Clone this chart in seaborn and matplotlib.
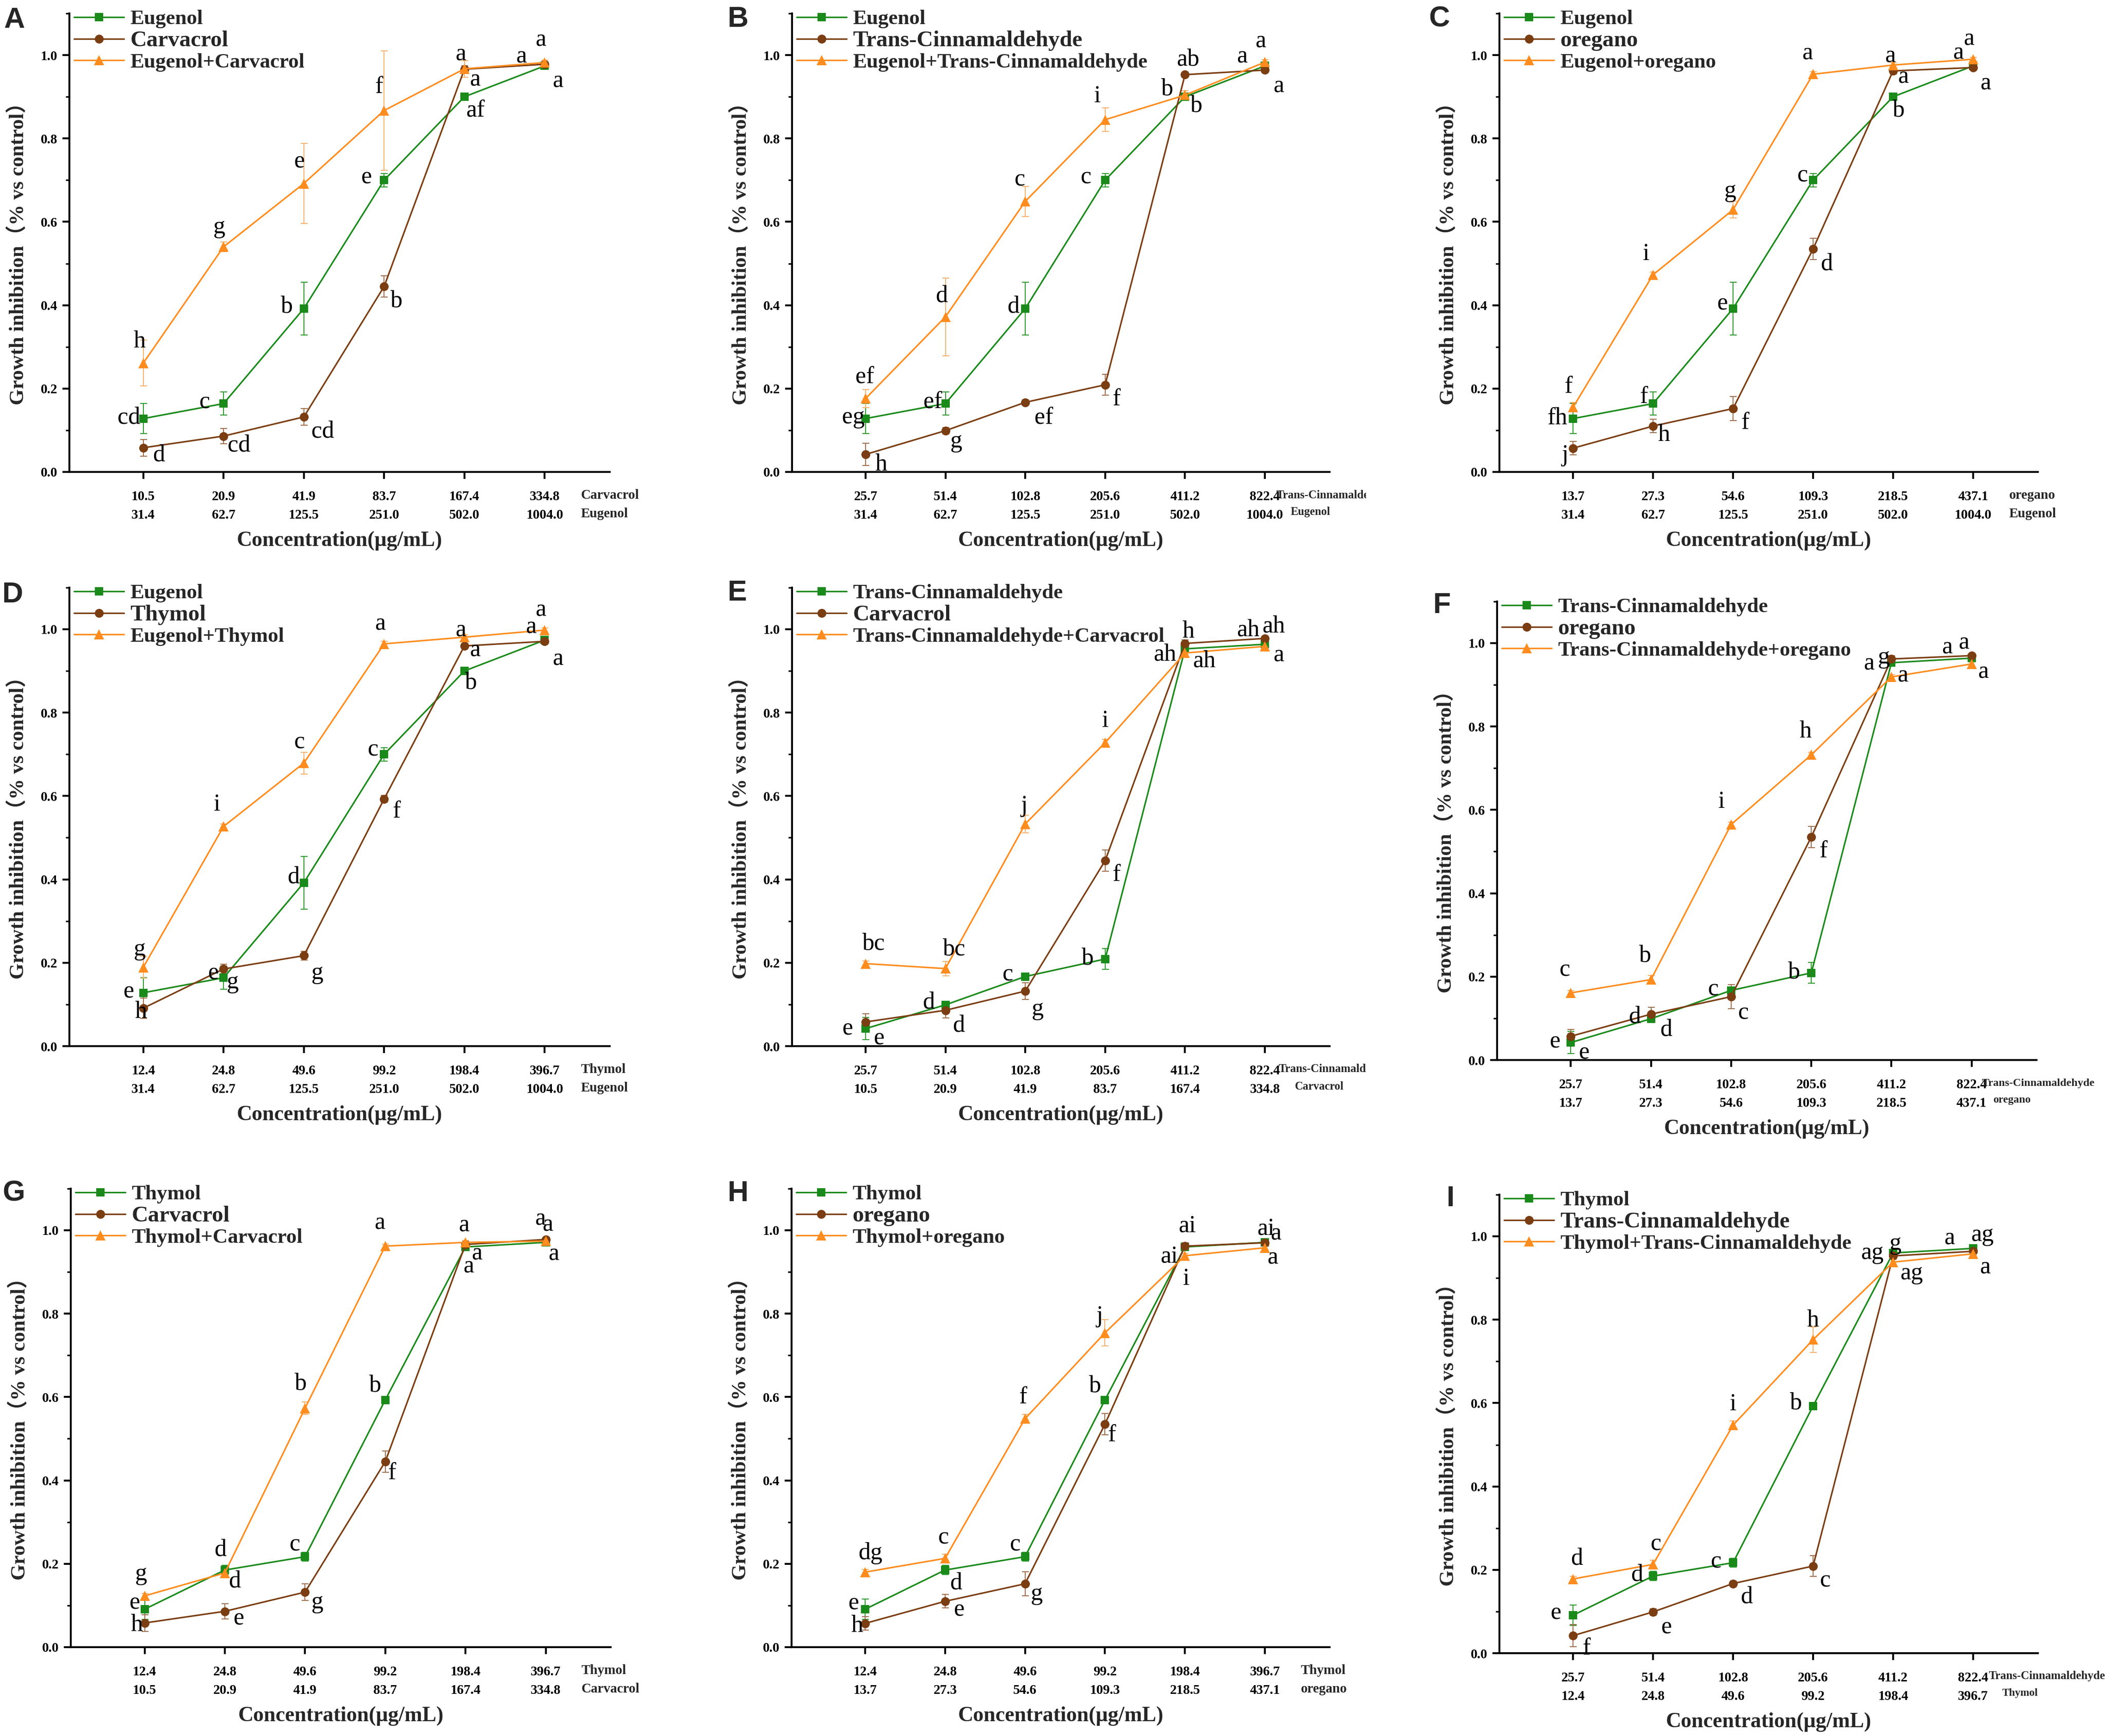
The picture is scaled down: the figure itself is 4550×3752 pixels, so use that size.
import matplotlib
matplotlib.use("Agg")
import matplotlib.pyplot as plt
from matplotlib.ticker import MultipleLocator, FormatStrFormatter
from matplotlib.transforms import Bbox
import pandas as pd
import seaborn as sns

W, H, DPI = 4550, 3752, 300

sns.set_theme(style="ticks", rc={"axes.edgecolor": "black", "xtick.color": "black",
                                 "ytick.color": "black", "axes.linewidth": 1.0})
plt.rcParams["font.family"] = ["Liberation Serif", "Noto Sans CJK SC", "DejaVu Sans"]
plt.rcParams["font.weight"] = "bold"
plt.rcParams["axes.labelweight"] = "bold"

# concentrations (ug/mL)
carvacrol_conc = [10.5, 20.9, 41.9, 83.7, 167.4, 334.8]
eugenol_conc = [31.4, 62.7, 125.5, 251.0, 502.0, 1004.0]
oregano_conc = [13.7, 27.3, 54.6, 109.3, 218.5, 437.1]
thymol_conc = [12.4, 24.8, 49.6, 99.2, 198.4, 396.7]
cinnam_conc = [25.7, 51.4, 102.8, 205.6, 411.2, 822.4]

# single compounds
eugenol = [0.128, 0.164, 0.392, 0.700, 0.900, 0.974]
eugenol_err = [0.036, 0.028, 0.063, 0.016, 0.008, 0.005]
carvacrol = [0.058, 0.086, 0.132, 0.445, 0.966, 0.978]
carvacrol_err = [0.020, 0.018, 0.020, 0.026, 0.008, 0.005]
oregano = [0.057, 0.110, 0.152, 0.535, 0.962, 0.970]
oregano_err = [0.016, 0.016, 0.029, 0.026, 0.008, 0.005]
thymol = [0.091, 0.185, 0.217, 0.593, 0.960, 0.971]
thymol_err = [0.024, 0.011, 0.011, 0.008, 0.006, 0.005]
cinnam = [0.042, 0.099, 0.167, 0.209, 0.953, 0.964]
cinnam_err = [0.027, 0.008, 0.006, 0.025, 0.006, 0.005]

# combinations
eug_carv = [0.261, 0.540, 0.692, 0.867, 0.967, 0.982]
eug_carv_err = [0.055, 0.012, 0.096, 0.143, 0.020, 0.006]
eug_cinn = [0.176, 0.372, 0.649, 0.845, 0.904, 0.983]
eug_cinn_err = [0.022, 0.093, 0.036, 0.028, 0.010, 0.006]
eug_oreg = [0.155, 0.473, 0.629, 0.954, 0.976, 0.990]
eug_oreg_err = [0.011, 0.006, 0.020, 0.006, 0.006, 0.005]
eug_thym = [0.189, 0.527, 0.679, 0.965, 0.981, 0.998]
eug_thym_err = [0.026, 0.006, 0.026, 0.006, 0.006, 0.005]
cinn_carv = [0.198, 0.186, 0.533, 0.728, 0.943, 0.959]
cinn_carv_err = [0.006, 0.017, 0.021, 0.008, 0.006, 0.005]
cinn_oreg = [0.161, 0.193, 0.565, 0.732, 0.919, 0.950]
cinn_oreg_err = [0.006, 0.010, 0.006, 0.006, 0.006, 0.005]
thym_carv = [0.123, 0.178, 0.573, 0.962, 0.971, 0.974]
thym_carv_err = [0.006, 0.008, 0.015, 0.005, 0.005, 0.005]
thym_oreg = [0.180, 0.213, 0.548, 0.754, 0.939, 0.958]
thym_oreg_err = [0.006, 0.010, 0.010, 0.032, 0.006, 0.005]
thym_cinn = [0.178, 0.213, 0.547, 0.752, 0.938, 0.958]
thym_cinn_err = [0.006, 0.010, 0.010, 0.031, 0.006, 0.005]

conc = {"Carvacrol": carvacrol_conc, "Eugenol": eugenol_conc, "oregano": oregano_conc,
        "Thymol": thymol_conc, "Trans-Cinnamaldehyde": cinnam_conc}
vals = {"Eugenol": eugenol, "Carvacrol": carvacrol, "oregano": oregano, "Thymol": thymol,
        "Trans-Cinnamaldehyde": cinnam,
        "Eugenol+Carvacrol": eug_carv, "Eugenol+Trans-Cinnamaldehyde": eug_cinn,
        "Eugenol+oregano": eug_oreg, "Eugenol+Thymol": eug_thym,
        "Trans-Cinnamaldehyde+Carvacrol": cinn_carv, "Trans-Cinnamaldehyde+oregano": cinn_oreg,
        "Thymol+Carvacrol": thym_carv, "Thymol+oregano": thym_oreg,
        "Thymol+Trans-Cinnamaldehyde": thym_cinn}
errs = {"Eugenol": eugenol_err, "Carvacrol": carvacrol_err, "oregano": oregano_err,
        "Thymol": thymol_err, "Trans-Cinnamaldehyde": cinnam_err,
        "Eugenol+Carvacrol": eug_carv_err, "Eugenol+Trans-Cinnamaldehyde": eug_cinn_err,
        "Eugenol+oregano": eug_oreg_err, "Eugenol+Thymol": eug_thym_err,
        "Trans-Cinnamaldehyde+Carvacrol": cinn_carv_err, "Trans-Cinnamaldehyde+oregano": cinn_oreg_err,
        "Thymol+Carvacrol": thym_carv_err, "Thymol+oregano": thym_oreg_err,
        "Thymol+Trans-Cinnamaldehyde": thym_cinn_err}

# significance letters (series 1, series 2, combination)
letters_A = [["cd", "c", "b", "e", "af", "a"], ["d", "cd", "cd", "b", "a", "a"], ["h", "g", "e", "f", "a", "a"]]
letters_B = [["eg", "ef", "d", "c", "b", "a"], ["h", "g", "ef", "f", "ab", "a"], ["ef", "d", "c", "i", "b", "a"]]
letters_C = [["fh", "f", "e", "c", "b", "a"], ["j", "h", "f", "d", "a", "a"], ["f", "i", "g", "a", "a", "a"]]
letters_D = [["e", "e", "d", "c", "b", "a"], ["h", "g", "g", "f", "a", "a"], ["g", "i", "c", "a", "a", "a"]]
letters_E = [["e", "d", "c", "b", "ah", "ah"], ["e", "d", "g", "f", "h", "ah"], ["bc", "bc", "j", "i", "ah", "a"]]
letters_F = [["e", "d", "c", "b", "g", "a"], ["e", "d", "c", "f", "a", "a"], ["c", "b", "i", "h", "a", "a"]]
letters_G = [["e", "d", "c", "b", "a", "a"], ["h", "e", "g", "f", "a", "a"], ["g", "d", "b", "a", "a", "a"]]
letters_H = [["e", "d", "c", "b", "ai", "ai"], ["h", "e", "g", "f", "ai", "a"], ["dg", "c", "f", "j", "i", "a"]]
letters_I = [["e", "d", "c", "b", "ag", "a"], ["f", "e", "d", "c", "g", "ag"], ["d", "c", "i", "h", "ag", "a"]]

# letter offsets from each marker, in points
offs_A = [[(-7.4, 0.6), (-9.8, 0.6), (-8.8, 1.1), (-9.1, 1.3), (5.6, -7.1), (6.7, -7.9)],
          [(8.1, -3.8), (8.1, -4.9), (9.8, -7.5), (6.5, -7.5), (5.6, -5.6), (-12.1, 3.9)],
          [(-1.9, 11.3), (-2.3, 10.3), (-2.3, 11.3), (-2.8, 12.2), (-1.9, 7.5), (-2.1, 11.7)]]
offs_B = [[(-6.3, 0.6), (-6.5, 0.9), (-6.3, 1.1), (-9.8, 1.3), (5.8, -4.7), (-11.9, 4.7)],
          [(8.1, -5.3), (5.6, -5.6), (9.5, -7.9), (5.8, -7.5), (1.6, 7.9), (7.0, -8.5)],
          [(-0.5, 11.3), (-1.9, 10.9), (-2.8, 11.3), (-4.0, 12.2), (-9.3, 3.2), (-2.3, 10.7)]]
offs_C = [[(-8.1, 0.2), (-4.9, 3.4), (-5.3, 2.4), (-5.3, 2.3), (3.0, -7.1), (6.5, -9.2)],
          [(-4.2, -3.8), (5.6, -4.7), (6.3, -7.5), (7.0, -7.9), (5.3, -3.2), (-7.7, 7.5)],
          [(-2.3, 10.7), (-3.5, 10.7), (-1.4, 9.6), (-3.0, 10.7), (-1.6, 4.7), (-2.3, 10.5)]]
offs_D = [[(-7.4, 0.6), (-5.3, 2.4), (-5.3, 3.0), (-5.6, 2.3), (3.3, -6.0), (6.7, -9.8)],
          [(-1.2, -1.9), (4.7, -7.0), (7.0, -9.0), (6.5, -6.6), (5.6, -2.3), (-7.2, 7.3)],
          [(-1.9, 9.4), (-3.5, 11.3), (-2.3, 10.7), (-2.1, 10.3), (-1.9, 3.4), (-2.1, 10.3)]]
offs_E = [[(-9.3, 0.0), (-8.8, 1.3), (-9.1, 0.9), (-9.1, 0.4), (-10.5, -2.9), (-8.8, 7.5)],
          [(7.0, -8.5), (7.0, -7.9), (6.5, -9.4), (5.8, -7.5), (1.6, 6.2), (4.4, 6.2)],
          [(4.2, 10.3), (4.7, 10.0), (-0.5, 9.4), (0.0, 11.3), (10.0, -4.1), (7.0, -4.7)]]
offs_F = [[(-8.1, 0.4), (-8.6, 1.1), (-9.3, 0.6), (-8.8, 0.4), (-4.0, 2.8), (-12.6, 5.6)],
          [(7.0, -8.5), (7.7, -8.1), (6.3, -8.5), (6.3, -7.5), (-11.6, -2.4), (-4.0, 6.6)],
          [(-3.0, 11.8), (-3.0, 12.4), (-5.1, 11.8), (-3.0, 12.2), (5.8, 0.6), (6.0, -4.1)]]
offs_G = [[(-5.1, 3.2), (-2.3, 10.5), (-5.3, 6.3), (-5.1, 7.4), (6.0, -3.4), (4.2, -6.1)],
          [(-4.2, -1.0), (7.4, -3.8), (6.3, -5.3), (3.5, -6.1), (1.6, -11.6), (0.9, 7.6)],
          [(-1.9, 11.4), (5.1, -4.4), (-2.3, 12.7), (-2.8, 12.0), (-0.9, 8.7), (-2.8, 11.4)]]
offs_H = [[(-5.8, 2.9), (5.6, -6.7), (-5.1, 6.3), (-5.1, 7.2), (-8.1, -4.8), (0.5, 7.2)],
          [(-4.2, -1.3), (7.4, -4.4), (6.0, -5.3), (3.5, -5.7), (1.2, 10.6), (5.8, 4.8)],
          [(2.8, 9.9), (-0.7, 10.8), (-1.2, 11.0), (-2.8, 8.6), (0.7, -12.0), (4.0, -5.1)]]
offs_I = [[(-8.8, 1.0), (-8.4, 0.6), (-8.8, 0.4), (-8.8, 1.5), (-10.9, 0.0), (-12.3, 5.3)],
          [(7.0, -6.7), (7.0, -8.0), (7.0, -7.0), (6.3, -7.6), (1.2, 6.3), (4.7, 8.6)],
          [(1.9, 10.5), (1.6, 10.5), (0.0, 10.8), (0.0, 9.9), (9.5, -5.7), (6.3, -7.0)]]

panels = [
    ("A", ["Eugenol", "Carvacrol", "Eugenol+Carvacrol"], ("Carvacrol", "Eugenol"), letters_A, offs_A),
    ("B", ["Eugenol", "Trans-Cinnamaldehyde", "Eugenol+Trans-Cinnamaldehyde"], ("Trans-Cinnamaldehyde", "Eugenol"), letters_B, offs_B),
    ("C", ["Eugenol", "oregano", "Eugenol+oregano"], ("oregano", "Eugenol"), letters_C, offs_C),
    ("D", ["Eugenol", "Thymol", "Eugenol+Thymol"], ("Thymol", "Eugenol"), letters_D, offs_D),
    ("E", ["Trans-Cinnamaldehyde", "Carvacrol", "Trans-Cinnamaldehyde+Carvacrol"], ("Trans-Cinnamaldehyde", "Carvacrol"), letters_E, offs_E),
    ("F", ["Trans-Cinnamaldehyde", "oregano", "Trans-Cinnamaldehyde+oregano"], ("Trans-Cinnamaldehyde", "oregano"), letters_F, offs_F),
    ("G", ["Thymol", "Carvacrol", "Thymol+Carvacrol"], ("Thymol", "Carvacrol"), letters_G, offs_G),
    ("H", ["Thymol", "oregano", "Thymol+oregano"], ("Thymol", "oregano"), letters_H, offs_H),
    ("I", ["Thymol", "Trans-Cinnamaldehyde", "Thymol+Trans-Cinnamaldehyde"], ("Trans-Cinnamaldehyde", "Thymol"), letters_I, offs_I),
]

# axes placement in pixels: left, right, pixel row of y=0
layout = {"A": (150, 1318, 1020), "B": (1712, 2874, 1020), "C": (3241, 4405, 1020),
          "D": (150, 1318, 2261), "E": (1712, 2874, 2261), "F": (3236, 4402, 2291),
          "G": (153, 1320, 3560), "H": (1711, 2874, 3560), "I": (3241, 4405, 3573)}
letter_xy = {"A": (8, 14), "B": (1573, 12), "C": (3088, 12), "D": (5, 1256), "E": (1573, 1252),
             "F": (3098, 1279), "G": (5, 2550), "H": (1573, 2550), "I": (3127, 2561)}
# compound names right of the tick rows: (dx pt, dy pt, size)
right_style = {"A": [(18.8, -12.2, 7), (18.8, -21.7, 7)],
               "B": [(5.8, -12.0, 6), (13.3, -20.7, 5.9)],
               "C": [(18.6, -12.2, 7), (18.6, -21.7, 7)],
               "D": [(18.8, -12.2, 7), (18.8, -21.7, 7)],
               "E": [(7.0, -12.0, 6), (15.6, -20.9, 5.9)],
               "F": [(5.3, -12.0, 5.8), (11.2, -20.7, 5.7)],
               "G": [(18.4, -12.2, 7), (18.4, -21.7, 7)],
               "H": [(18.6, -12.2, 7), (18.6, -21.7, 7)],
               "I": [(8.1, -12.0, 6), (15.1, -20.7, 5.6)]}
clipped = {"B", "E"}

colors = ["#1a8a1a", "#7b3d12", "#ff8c1e"]
err_colors = ["#2f9a2f", "#a0704f", "#f8b270"]
marker_sizes = [4.2, 4.6, 5.2]
x = [1, 2, 3, 4, 5, 6]

fig = plt.figure(figsize=(W / DPI, H / DPI), dpi=DPI)
unit = 901

for key, names, rows, lets, offs in panels:
    l, r, y0 = layout[key]
    ax = fig.add_axes([l / W, 1 - y0 / H, (r - l) / W, 1.1 * unit / H])

    df = pd.DataFrame({"pos": x * 3,
                       "value": vals[names[0]] + vals[names[1]] + vals[names[2]],
                       "series": [n for n in names for _ in x]})
    sns.lineplot(data=df, x="pos", y="value", hue="series", style="series",
                 hue_order=names, style_order=names, palette=colors,
                 markers=["s", "o", "^"], dashes=False, errorbar=None,
                 linewidth=0.8, markeredgewidth=0, ax=ax)
    for line, ms in zip(ax.lines[:3], marker_sizes):
        line.set_markersize(ms)

    for name, ec in zip(names, err_colors):
        ax.errorbar(x, vals[name], yerr=errs[name], fmt="none", ecolor=ec,
                    elinewidth=0.5, capsize=1.8, capthick=0.5, zorder=1.8)

    for name, lab, off in zip(names, lets, offs):
        for xi, yi, t, (dx, dy) in zip(x, vals[name], lab, off):
            ax.annotate(t, (xi, yi), xytext=(dx, dy), textcoords="offset points",
                        ha="center", va="center", fontsize=12.5, fontweight="normal",
                        color="black", annotation_clip=False)

    ax.set_xlim(0.08, 6.81)
    ax.set_ylim(0, 1.1)
    ax.set_xticks(x)
    ax.set_xticklabels([f"{a:.1f}\n{b:.1f}" for a, b in zip(conc[rows[0]], conc[rows[1]])],
                       fontsize=7, linespacing=1.65)
    ax.yaxis.set_major_locator(MultipleLocator(0.2))
    ax.yaxis.set_minor_locator(MultipleLocator(0.1))
    ax.yaxis.set_major_formatter(FormatStrFormatter("%.1f"))
    ax.tick_params(axis="both", which="major", direction="out", length=3.5, width=1.0, labelsize=7)
    ax.tick_params(axis="x", pad=6.0)
    ax.tick_params(axis="y", pad=2.7)
    ax.tick_params(axis="y", which="minor", direction="out", length=2, width=0.8)
    sns.despine(ax=ax)

    ax.set_xlabel("Concentration(μg/mL)", fontsize=11, fontweight="bold")
    ax.xaxis.set_label_coords(0.5, -0.150)
    ax.xaxis.label.set_va("center")
    ax.set_ylabel("Growth inhibition（% vs control）", fontsize=10.7, fontweight="bold")
    ax.yaxis.set_label_coords(-0.0959, 0.487)
    ax.yaxis.label.set_va("center")

    for text, (dx, dy, fs) in zip(rows, right_style[key]):
        t = ax.annotate(text, (6, 0), xycoords=("data", "axes fraction"), xytext=(dx, dy),
                        textcoords="offset points", ha="left", va="center", fontsize=fs,
                        annotation_clip=False)
        if key in clipped and text == rows[0]:
            t.set_clip_box(Bbox.from_extents(0, 0, 2953, H))
            t.set_clip_on(True)

    old = ax.get_legend()
    handles = [h for h, tx in zip(old.legend_handles, old.get_texts()) if tx.get_text() in names]
    labels = [tx.get_text() for tx in old.get_texts() if tx.get_text() in names]
    old.remove()
    for h, ms in zip(handles, marker_sizes):
        h.set_markersize(ms)
        h.set_markeredgewidth(0)
    leg = ax.legend(handles, labels, loc="upper left", bbox_to_anchor=(0.0086, 1.008),
                    frameon=False, borderpad=0, borderaxespad=0, labelspacing=0.1,
                    handlelength=2.4, handletextpad=0.3, fontsize=10.8)
    leg.get_texts()[1].set_fontsize(11.8)

    px, py = letter_xy[key]
    fig.text(px / W, 1 - py / H, key, fontsize=15, fontweight="bold",
             family="Liberation Sans", ha="left", va="top")

fig.savefig("out.png", dpi=DPI)
